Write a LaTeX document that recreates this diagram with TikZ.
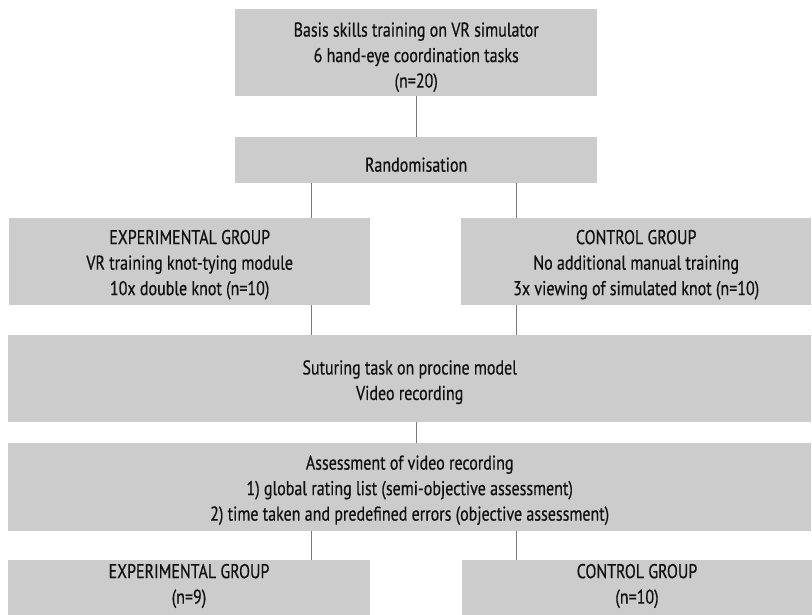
\documentclass[tikz,border=0pt]{standalone}
\usepackage{fontspec}
\setmainfont[FakeStretch=0.8,FakeBold=0.5]{PT Sans}
\begin{document}
\begin{tikzpicture}[x=1pt,y=-1pt,
  box/.style={fill=boxgray, draw=none, inner sep=0pt, anchor=north west},
  lbl/.style={align=center, inner sep=0pt,
    font=\fontsize{20}{25.5}\selectfont, text=txt},
  conn/.style={draw=linegray, line width=0.9pt}]
\definecolor{boxgray}{HTML}{CCCCCC}
\definecolor{linegray}{HTML}{7A7A7A}
\definecolor{txt}{HTML}{111111}
\useasboundingbox (0,0) rectangle (812,614);
\clip (0,0) rectangle (812,614);
\coordinate (colL) at (311,0);
\coordinate (colR) at (516,0);
\coordinate (colM) at (416.5,0);
\node[box, minimum width=362pt, minimum height=87pt] (basis) at (235,9) {};
\node[box, minimum width=362pt, minimum height=46pt] (rand) at (235,137) {};
\node[box, minimum width=361pt, minimum height=87pt] (exp) at (9,218) {};
\node[box, minimum width=350pt, minimum height=87pt] (ctrl) at (461,218) {};
\node[box, minimum width=803pt, minimum height=87pt] (sut) at (8,335) {};
\node[box, minimum width=803pt, minimum height=88pt] (ass) at (8,443) {};
\node[box, minimum width=362pt, minimum height=60pt] (expb) at (8,560) {};
\node[box, minimum width=350pt, minimum height=60pt] (ctrlb) at (462,560) {};
\node[lbl] (basisT) at ([yshift=-4.5pt]basis.center)
  {Basis skills training on VR simulator\\6 hand-eye coordination tasks\\(n=20)};
\node[lbl] (randT) at ([yshift=-4.5pt]rand.center) {Randomisation};
\node[lbl] (expT) at ([yshift=-3pt]exp.center)
  {EXPERIMENTAL GROUP\\VR training knot-tying module\\10x double knot (n=10)};
\node[lbl] (ctrlT) at ([yshift=-3pt]ctrl.center)
  {CONTROL GROUP\\No additional manual training\\3x viewing of simulated knot (n=10)};
\node[lbl] (sutT) at ([yshift=-3.5pt]sut.center)
  {Suturing task on procine model\\Video recording};
\node[lbl] (assT) at ([yshift=-3pt]ass.center)
  {Assessment of video recording\\1) global rating list (semi-objective assessment)\\2) time taken and predefined errors (objective assessment)};
\node[lbl] (expbT) at (189,586) {EXPERIMENTAL GROUP\\(n=9)};
\node[lbl] (ctrlbT) at (637,586) {CONTROL GROUP\\(n=10)};
\draw[conn] (basis.south) -- (rand.north);
\draw[conn] (rand.south -| colL) -- (exp.north -| colL);
\draw[conn] (rand.south -| colR) -- (ctrl.north -| colR);
\draw[conn] (exp.south -| colL) -- (sut.north -| colL);
\draw[conn] (ctrl.south -| colR) -- (sut.north -| colR);
\draw[conn] (sut.south -| colM) -- (ass.north -| colM);
\draw[conn] (ass.south -| colL) -- (expb.north -| colL);
\draw[conn] (ass.south -| colR) -- (ctrlb.north -| colR);
\end{tikzpicture}
\end{document}
